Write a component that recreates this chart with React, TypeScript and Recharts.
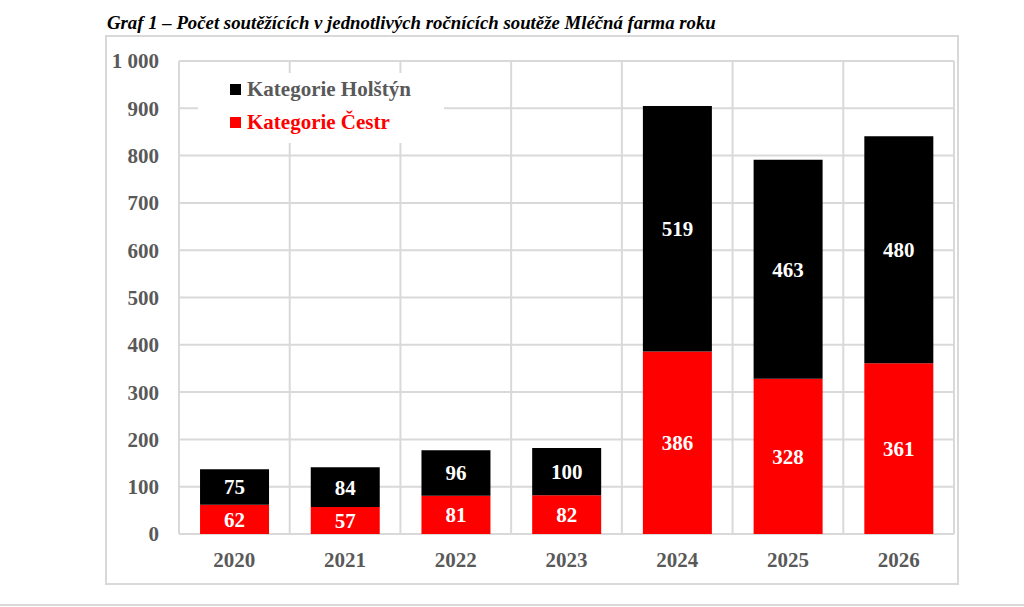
import { BarChart, Bar, XAxis, YAxis, CartesianGrid, Legend, LabelList } from 'recharts'

// ---------------------------------------------------------------------------
// Graf 1 – počet soutěžících v ročnících soutěže Mléčná farma roku.
// Skládaný sloupcový graf: Čestr (červená) dole, Holštýn (černá) nahoře.
// ---------------------------------------------------------------------------

const years = ['2020', '2021', '2022', '2023', '2024', '2025', '2026']
const cestr = [62, 57, 81, 82, 386, 328, 361]
const holstyn = [75, 84, 96, 100, 519, 463, 480]
const yTicks = [0, 100, 200, 300, 400, 500, 600, 700, 800, 900, 1000]

const chartData = years.map((year, i) => ({ year, cestr: cestr[i], holstyn: holstyn[i] }))

const FONT = '"Liberation Serif", "Times New Roman", serif'
const AXIS_GRAY = '#595959'
const GRID = '#d9d9d9'

const legendItems = [
  { label: 'Kategorie Holštýn', marker: '#000000', text: AXIS_GRAY },
  { label: 'Kategorie Čestr', marker: '#ff0000', text: '#ff0000' },
]

function ChartLegend() {
  return (
    <div style={{ background: '#fff', width: 246, height: 70 }}>
      {legendItems.map((item) => (
        <div
          key={item.label}
          style={{
            display: 'flex',
            alignItems: 'center',
            height: 33,
            paddingLeft: 32,
            fontFamily: FONT,
            fontWeight: 'bold',
            fontSize: 21,
            color: item.text,
          }}
        >
          <span
            style={{
              display: 'inline-block',
              width: 11,
              height: 11,
              background: item.marker,
              marginRight: 6,
            }}
          />
          {item.label}
        </div>
      ))}
    </div>
  )
}

// vertical grid lines sit on the category boundaries, not on the centres
function boundaryLines({ offset }: any) {
  const step = offset.width / years.length
  return years.map((_, i) => offset.left + i * step).concat(offset.left + offset.width)
}

const tickStyle = { fill: AXIS_GRAY, fontFamily: FONT, fontWeight: 'bold', fontSize: 21 }
const labelStyle = { fill: '#fff', fontFamily: FONT, fontWeight: 'bold', fontSize: 21 }

export default function App() {
  return (
    <div style={{ position: 'absolute', left: 0, top: 0, width: 1024, height: 607, background: '#fff' }}>
      <div
        style={{
          position: 'absolute',
          left: 107,
          top: 12,
          fontFamily: FONT,
          fontStyle: 'italic',
          fontWeight: 'bold',
          fontSize: 18.8,
          color: '#000',
          whiteSpace: 'nowrap',
        }}
      >
        Graf 1 – Počet soutěžících v jednotlivých ročnících soutěže Mléčná farma roku
      </div>
      <div
        style={{
          position: 'absolute',
          left: 105,
          top: 35,
          width: 850,
          height: 546,
          border: `2px solid ${GRID}`,
          boxSizing: 'content-box',
        }}
      >
        <BarChart
          width={850}
          height={546}
          data={chartData}
          margin={{ top: 24, right: 3, left: 0, bottom: 0 }}
          barCategoryGap="19%"
        >
          <CartesianGrid stroke={GRID} strokeWidth={2} verticalCoordinatesGenerator={boundaryLines} />
          <XAxis
            dataKey="year"
            axisLine={false}
            tickLine={false}
            tickMargin={12}
            height={49}
            tick={tickStyle}
          />
          <YAxis
            domain={[0, 1000]}
            ticks={yTicks}
            axisLine={false}
            tickLine={false}
            tickMargin={14}
            width={72}
            tick={tickStyle}
            tickFormatter={(v: number) => (v >= 1000 ? v.toLocaleString('en-US').replace(',', ' ') : String(v))}
          />
          <Legend
            layout="horizontal"
            verticalAlign="middle"
            align="center"
            content={<ChartLegend />}
            wrapperStyle={{ left: 91, top: 36, width: 246, height: 70 }}
          />
          <Bar dataKey="cestr" stackId="a" fill="#ff0000" isAnimationActive={false}>
            <LabelList dataKey="cestr" position="center" style={labelStyle} />
          </Bar>
          <Bar dataKey="holstyn" stackId="a" fill="#000000" isAnimationActive={false}>
            <LabelList dataKey="holstyn" position="center" style={labelStyle} />
          </Bar>
        </BarChart>
      </div>
      <div style={{ position: 'absolute', left: 0, top: 604, width: 1024, height: 2, background: GRID }} />
    </div>
  )
}
